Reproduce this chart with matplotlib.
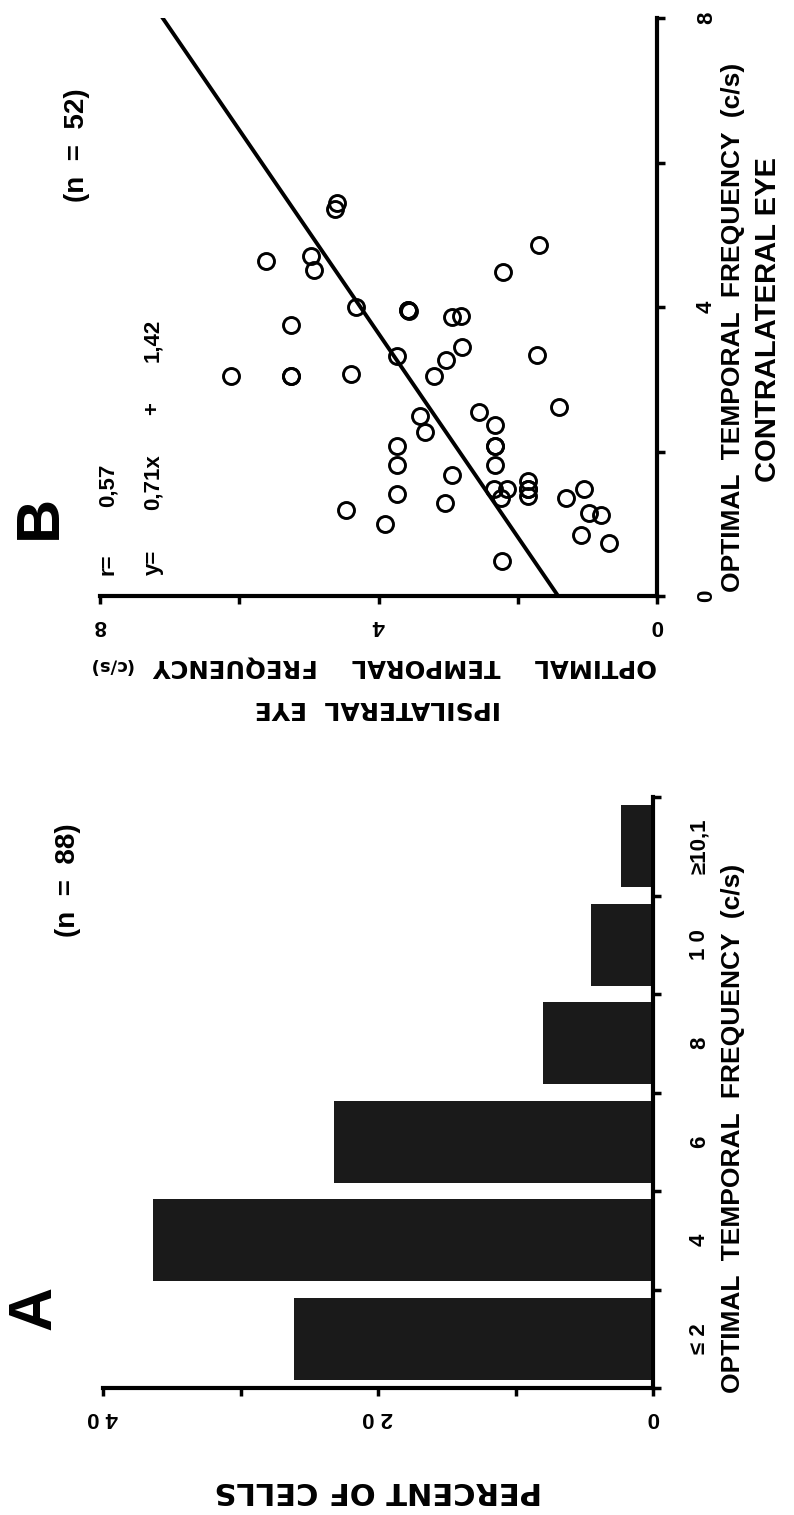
import numpy as np
import matplotlib
matplotlib.use("Agg")
import matplotlib.pyplot as plt
from matplotlib.ticker import FixedLocator

plt.rcParams['font.family'] = ['Liberation Sans', 'DejaVu Sans']
plt.rcParams['font.weight'] = 'bold'

# panel A: distribution of optimal temporal frequency (n = 88)
freq_classes = ['\u2264 2', '4', '6', '8', '1 0', '\u226510,1']
percent_cells = [26.1, 36.4, 23.2, 8.0, 4.5, 2.3]
pct_ticks = [0, 20, 40]
pct_labels = ['0', '2 0', '4 0']

# panel B: ipsilateral vs contralateral eye, optimal temporal frequency (c/s)
contra_freq = [5.44, 5.36, 4.64, 4.71, 4.51, 4.00, 3.75, 3.32, 3.05, 3.05,
               3.07, 4.86, 4.48, 3.96, 3.95, 3.86, 3.88, 3.45, 3.27, 3.05,
               3.34, 1.19, 0.99, 2.07, 1.82, 1.41, 2.55, 2.37, 2.07, 1.82,
               1.48, 1.48, 1.36, 1.59, 1.48, 1.38, 2.62, 2.49, 2.27, 1.68,
               1.29, 1.36, 1.48, 1.15, 1.12, 0.84, 0.73, 0.48, 3.96, 1.48,
               3.05, 2.07]
ipsi_freq = [4.59, 4.63, 5.61, 4.97, 4.92, 4.32, 5.25, 3.74, 6.12, 5.25,
             4.40, 1.69, 2.21, 3.57, 3.56, 2.94, 2.82, 2.80, 3.03, 3.21,
             1.73, 4.46, 3.90, 3.74, 3.74, 3.73, 2.55, 2.32, 2.32, 2.32,
             2.34, 2.16, 2.24, 1.85, 1.85, 1.85, 1.41, 3.40, 3.33, 2.95,
             3.04, 1.30, 1.05, 0.97, 0.80, 1.09, 0.69, 2.22, 3.57, 1.85,
             5.25, 2.32]
slope, intercept = 0.71, 1.42
freq_ticks = [0, 4, 8]
freq_minor = [2, 6]

W, H = 794, 1515
fig = plt.figure(figsize=(W / 100, H / 100), dpi=100)
WIDE = ['DejaVu Sans']


def fx(x):
    return x / W


def fy(y):
    return 1 - y / H


def axes_px(x0, y0, x1, y1):
    return fig.add_axes([fx(x0), fy(y1), fx(x1 - x0), (y1 - y0) / H])


def style(ax):
    for s in ['top', 'left']:
        ax.spines[s].set_visible(False)
    for s in ['bottom', 'right']:
        ax.spines[s].set_linewidth(3)
    ax.yaxis.tick_right()
    ax.tick_params(which='both', direction='out', width=2.5, length=6,
                   labelsize=16, colors='black')
    ax.patch.set_alpha(0)


def vtext(x, y, s, size, **kw):
    # text reading bottom-to-top, anchored at its first character
    fig.text(fx(x), fy(y), s, fontsize=size, rotation=90, ha='left',
             va='center', rotation_mode='anchor', **kw)


def flipped(x, y, s, size, ha='left'):
    # upside-down text (the old y-axis titles), wide face
    fig.text(fx(x), fy(y), s, fontsize=size, family=WIDE, rotation=180,
             ha=ha, va='center', rotation_mode='anchor')


# ---- panel B (rotated page: contralateral runs up, ipsilateral runs left)
axb = axes_px(100, 18, 657, 596)
style(axb)
axb.plot(ipsi_freq, contra_freq, 'o', ms=11.5, mfc='none', mec='black', mew=2.1)
c = np.array([0, 8])
axb.plot(slope * c + intercept, c, color='black', lw=2.8)
axb.set_xlim(8, 0)
axb.set_ylim(0, 8)
axb.xaxis.set_major_locator(FixedLocator(freq_ticks))
axb.xaxis.set_minor_locator(FixedLocator(freq_minor))
axb.yaxis.set_major_locator(FixedLocator(freq_ticks))
axb.yaxis.set_minor_locator(FixedLocator(freq_minor))
axb.set_xticklabels([str(t) for t in freq_ticks], rotation=180)
axb.set_yticklabels([str(t) for t in freq_ticks], rotation=90, va='center')
axb.tick_params(axis='x', pad=8)
axb.tick_params(axis='y', pad=22)

fig.text(fx(40), fy(517), 'B', fontsize=44, fontweight='bold', rotation=90,
         ha='center', va='center')
fig.text(fx(77), fy(145), '(n  =  52)', fontsize=20, rotation=90,
         ha='center', va='center')
vtext(108, 575, 'r=', 16)
vtext(108, 507, '0,57', 16)
vtext(153, 575, 'y=', 16)
vtext(153, 510, '0,71x', 16)
vtext(153, 415, '+', 16)
vtext(153, 362, '1,42', 16)
vtext(733, 592, 'OPTIMAL  TEMPORAL  FREQUENCY  (c/s)', 19)
fig.text(fx(768), fy(320), 'CONTRALATERAL EYE', fontsize=21, rotation=90,
         ha='center', va='center')
flipped(657, 667, 'OPTIMAL    TEMPORAL    FREQUENCY', 17.5)
flipped(133, 665, '(c/s)', 13)
flipped(378, 708, 'IPSILATERAL  EYE', 18, ha='center')

# ---- panel A
axa = axes_px(103, 797, 653, 1388)
style(axa)
pos = np.arange(len(freq_classes))
axa.barh(pos, percent_cells, height=0.83, color='#1a1a1a')
axa.set_xlim(40, 0)
axa.set_ylim(-0.5, len(freq_classes) - 0.5)
axa.xaxis.set_major_locator(FixedLocator(pct_ticks))
axa.xaxis.set_minor_locator(FixedLocator([10, 30]))
axa.set_xticklabels(pct_labels, rotation=180)
axa.yaxis.set_major_locator(FixedLocator(pos))
axa.yaxis.set_minor_locator(FixedLocator(np.arange(len(freq_classes) + 1) - 0.5))
axa.set_yticklabels(freq_classes, rotation=90, va='center')
axa.tick_params(axis='y', which='major', length=0, pad=26)
axa.tick_params(axis='x', pad=8)

fig.text(fx(35), fy(1308), 'A', fontsize=44, fontweight='bold', rotation=90,
         ha='center', va='center')
fig.text(fx(68), fy(880), '(n  =  88)', fontsize=20, rotation=90,
         ha='center', va='center')
vtext(733, 1393, 'OPTIMAL  TEMPORAL  FREQUENCY  (c/s)', 19)
flipped(378, 1490, 'PERCENT OF CELLS', 22, ha='center')

fig.savefig('out.png', dpi=100, facecolor='white')
